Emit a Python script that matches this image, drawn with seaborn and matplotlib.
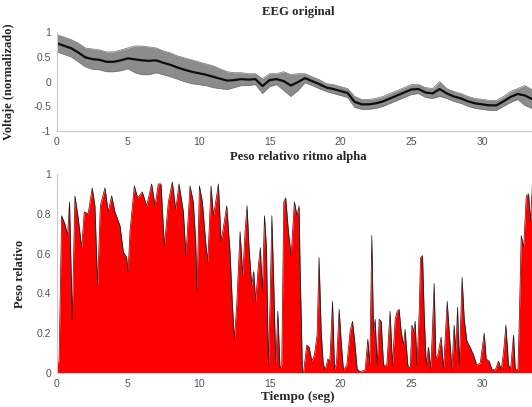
import seaborn as sns
import matplotlib.pyplot as plt

sns.set_style("white")

# EEG original: envolvente superior e inferior
eeg_t = [0, 0.5, 1, 1.5, 2, 2.5, 3, 3.5, 4, 4.5, 5, 5.5, 6, 6.5, 7, 7.5, 8, 8.5,
         9, 9.5, 10, 10.5, 11, 11.5, 12, 12.5, 13, 13.5, 14, 14.5, 15, 15.5, 16,
         16.5, 17, 17.5, 18, 18.5, 19, 19.5, 20, 20.5, 21, 21.5, 22, 22.5, 23,
         23.5, 24, 24.5, 25, 25.5, 26, 26.5, 27, 27.5, 28, 28.5, 29, 29.5, 30,
         30.5, 31, 31.5, 32, 32.5, 33, 33.5, 34]
eeg_hi = [0.95, 0.9, 0.85, 0.78, 0.68, 0.66, 0.64, 0.6, 0.6, 0.64, 0.68, 0.72,
          0.72, 0.7, 0.68, 0.62, 0.58, 0.52, 0.48, 0.44, 0.4, 0.36, 0.32, 0.26,
          0.2, 0.18, 0.18, 0.16, 0.16, 0.06, 0.16, 0.16, 0.2, 0.14, 0.16, 0.16,
          0.1, 0.04, -0.04, -0.06, -0.1, -0.14, -0.3, -0.36, -0.36, -0.34, -0.3,
          -0.24, -0.18, -0.12, -0.06, -0.06, -0.12, -0.14, 0.0, -0.14, -0.2,
          -0.24, -0.3, -0.34, -0.36, -0.38, -0.38, -0.3, -0.2, -0.14, -0.08,
          -0.16, -0.2]
eeg_lo = [0.6, 0.55, 0.5, 0.4, 0.3, 0.25, 0.24, 0.2, 0.2, 0.22, 0.26, 0.18,
          0.14, 0.14, 0.18, 0.14, 0.1, 0.05, 0.0, -0.04, -0.06, -0.08, -0.12,
          -0.14, -0.16, -0.12, -0.08, -0.08, -0.06, -0.24, -0.1, -0.06, -0.18,
          -0.3, -0.18, -0.02, -0.08, -0.14, -0.2, -0.24, -0.28, -0.32, -0.52,
          -0.56, -0.56, -0.54, -0.5, -0.44, -0.38, -0.32, -0.26, -0.24, -0.32,
          -0.34, -0.3, -0.34, -0.4, -0.44, -0.5, -0.54, -0.56, -0.58, -0.58,
          -0.5, -0.42, -0.36, -0.48, -0.54, -0.5]

# Peso relativo del ritmo alpha
alpha_t = [0.0, 0.05, 0.15, 0.33, 0.56, 0.75, 0.89, 1.08, 1.27, 1.5, 1.74, 1.93,
           2.2, 2.49, 2.68, 2.87, 3.06, 3.39, 3.62, 3.86, 4.09, 4.45, 4.68, 4.92,
           5.02, 5.15, 5.46, 5.69, 6.02, 6.33, 6.68, 6.92, 7.15, 7.34, 7.58, 7.86,
           8.14, 8.38, 8.61, 8.92, 9.1, 9.39, 9.62, 9.79, 9.88, 10.05, 10.26,
           10.49, 10.64, 10.87, 11.04, 11.2, 11.39, 11.58, 11.76, 11.98, 12.21,
           12.38, 12.52, 12.68, 12.92, 13.11, 13.27, 13.41, 13.55, 13.74, 13.88,
           14.02, 14.21, 14.35, 14.49, 14.64, 14.78, 14.92, 15.04, 15.16, 15.29,
           15.44, 15.58, 15.74, 15.86, 16.0, 16.14, 16.33, 16.52, 16.75, 16.94,
           17.08, 17.15, 17.32, 17.39, 17.62, 17.79, 17.98, 18.16, 18.35, 18.49,
           18.64, 18.78, 18.92, 19.11, 19.25, 19.44, 19.58, 19.72, 19.91, 20.05,
           20.21, 20.45, 20.68, 20.85, 20.99, 21.18, 21.39, 21.74, 21.93, 22.07,
           22.21, 22.33, 22.45, 22.59, 22.73, 22.87, 23.04, 23.27, 23.5, 23.67,
           23.86, 24.0, 24.14, 24.28, 24.45, 24.56, 24.75, 24.92, 25.04, 25.18,
           25.27, 25.4, 25.55, 25.65, 25.79, 25.91, 26.05, 26.21, 26.38, 26.61,
           26.73, 26.87, 27.1, 27.27, 27.53, 27.67, 27.86, 28.02, 28.14, 28.26,
           28.38, 28.58, 28.73, 28.92, 29.15, 29.39, 29.62, 29.86, 30.14, 30.28,
           30.49, 30.68, 30.92, 31.15, 31.34, 31.51, 31.67, 31.86, 32.0, 32.21,
           32.33, 32.52, 32.64, 32.75, 32.92, 33.11, 33.27, 33.41, 33.53, 33.7,
           34.0]
alpha_v = [0.0, 0.05, 0.06, 0.79, 0.75, 0.69, 0.86, 0.27, 0.89, 0.78, 0.63, 0.81,
           0.8, 0.93, 0.84, 0.44, 0.84, 0.93, 0.81, 0.89, 0.81, 0.74, 0.61, 0.58,
           0.51, 0.71, 0.94, 0.88, 0.91, 0.84, 0.95, 0.84, 0.95, 0.95, 0.64, 0.86,
           0.96, 0.82, 0.95, 0.81, 0.59, 0.94, 0.86, 0.66, 0.41, 0.94, 0.86,
           0.66, 0.56, 0.94, 0.79, 0.86, 0.95, 0.66, 0.74, 0.84, 0.61,
           0.34, 0.17, 0.34, 0.71, 0.49, 0.71, 0.84, 0.63, 0.44, 0.51,
           0.36, 0.54, 0.63, 0.41, 0.79, 0.63, 0.04, 0.37, 0.79, 0.46,
           0.04, 0.31, 0.02, 0.04, 0.86, 0.88, 0.71, 0.59, 0.86, 0.79,
           0.84, 0.54, 0.0, 0.0, 0.14, 0.13, 0.06, 0.09, 0.19, 0.58,
           0.21, 0.05, 0.015, 0.07, 0.06, 0.36, 0.02, 0.05, 0.32, 0.16,
           0.015, 0.04, 0.21, 0.26, 0.17, 0.02, 0.006, 0.015, 0.17, 0.04,
           0.69, 0.21, 0.27, 0.04, 0.27, 0.26, 0.04, 0.04, 0.31, 0.04,
           0.27, 0.31, 0.32, 0.21, 0.14, 0.22, 0.04, 0.02, 0.24, 0.21,
           0.26, 0.04, 0.3, 0.58, 0.59, 0.29, 0.04, 0.13, 0.02, 0.45,
           0.07, 0.09, 0.18, 0.02, 0.36, 0.21, 0.02, 0.24, 0.11, 0.33,
           0.04, 0.48, 0.27, 0.16, 0.13, 0.09, 0.04, 0.05, 0.2, 0.07,
           0.06, 0.02, 0.015, 0.06, 0.015, 0.11, 0.24, 0.04, 0.02, 0.19,
           0.02, 0.015, 0.34, 0.69, 0.63, 0.89, 0.9, 0.76, 0.94, 0.85,
           0.9]

serif = "Liberation Serif"
tick_col = "#555555"

fig = plt.figure(figsize=(5.32, 4.07), dpi=100)
ax1 = fig.add_axes([0.107, 0.678, 0.906, 0.243])
ax2 = fig.add_axes([0.107, 0.0835, 0.906, 0.489])

# panel superior: banda de la senal + trazo central
eeg_mid = [(h + l) / 2 for h, l in zip(eeg_hi, eeg_lo)]
ax1.fill_between(eeg_t, eeg_lo, eeg_hi, color="0.55", linewidth=0)
sns.lineplot(x=eeg_t, y=eeg_hi, ax=ax1, color="0.45", linewidth=0.5, estimator=None)
sns.lineplot(x=eeg_t, y=eeg_lo, ax=ax1, color="0.45", linewidth=0.5, estimator=None)
sns.lineplot(x=eeg_t, y=eeg_mid, ax=ax1, color="0.05", linewidth=1.6, estimator=None)
ax1.set_ylim(-1, 1)
ax1.set_yticks([-1, -0.5, 0, 0.5, 1])
ax1.set_yticklabels(["-1", "-0.5", "0", "0.5", "1"])
ax1.set_title("EEG original", fontfamily=serif, fontweight="bold", fontsize=9.2, pad=12)
ax1.set_ylabel("Voltaje (normalizado)", fontfamily=serif, fontweight="bold", fontsize=9)
ax1.yaxis.set_label_coords(-0.088, 0.5)

# panel inferior
ax2.fill_between(alpha_t, 0, alpha_v, color="#ff0000", linewidth=0)
sns.lineplot(x=alpha_t, y=alpha_v, ax=ax2, color="0.1", linewidth=0.5, estimator=None)
ax2.set_ylim(0, 1)
ax2.set_yticks([0, 0.2, 0.4, 0.6, 0.8, 1])
ax2.set_yticklabels(["0", "0.2", "0.4", "0.6", "0.8", "1"])
ax2.set_title("Peso relativo ritmo alpha", fontfamily=serif, fontweight="bold", fontsize=9.2, pad=10)
ax2.set_ylabel("Peso relativo", fontfamily=serif, fontweight="bold", fontsize=9)
ax2.yaxis.set_label_coords(-0.065, 0.5)
ax2.set_xlabel("Tiempo (seg)", fontfamily=serif, fontweight="bold", fontsize=9.5, labelpad=2)

for ax in (ax1, ax2):
    ax.set_xlim(0, 34)
    ax.set_xticks([0, 5, 10, 15, 20, 25, 30])
    ax.set_xticklabels(["0", "5", "10", "15", "20", "25", "30"])
    for s in ("top", "right"):
        ax.spines[s].set_visible(False)
    for s in ("left", "bottom"):
        ax.spines[s].set_color("#c8c8c8")
        ax.spines[s].set_linewidth(0.8)
    ax.tick_params(direction="in", length=3, width=0.6, color="#c8c8c8",
                   labelsize=7.5, labelcolor=tick_col, pad=4)
    for lab in ax.get_xticklabels() + ax.get_yticklabels():
        lab.set_fontfamily("Liberation Sans")

fig.savefig("out.png", dpi=100)
